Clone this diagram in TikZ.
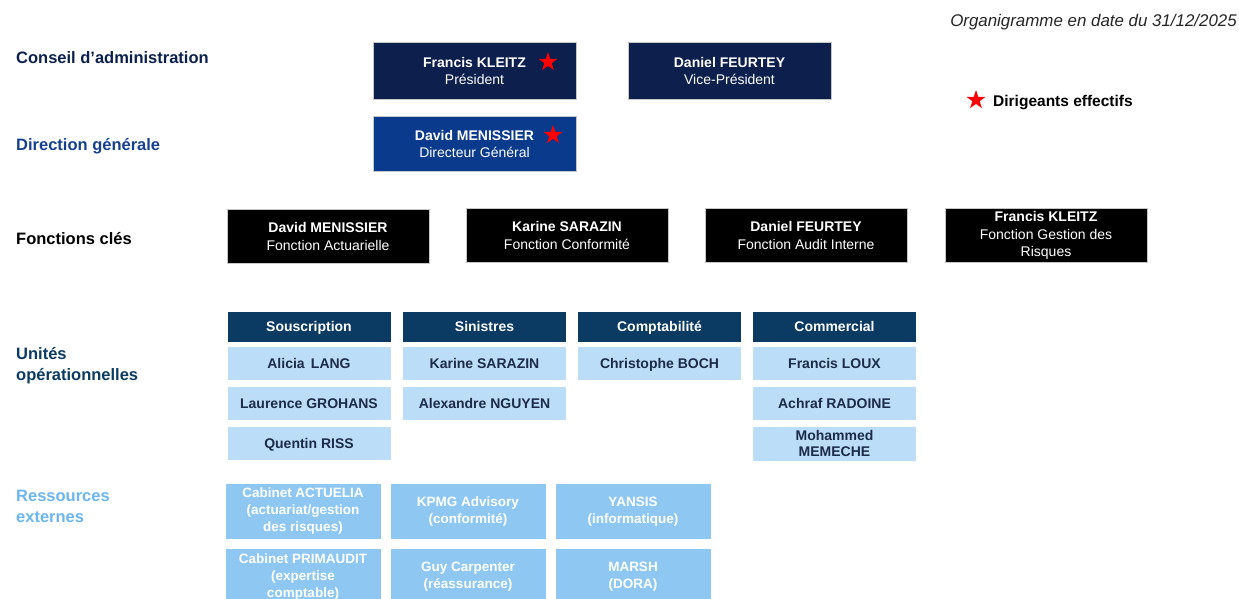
\documentclass[tikz,border=0pt]{standalone}
\usepackage{fontspec}
\setmainfont{Liberation Sans}
\usetikzlibrary{shapes.geometric}
\definecolor{canavy}{HTML}{0C1F4D}
\definecolor{dgblue}{HTML}{0A3A8C}
\definecolor{uohead}{HTML}{0B3A63}
\definecolor{uoitem}{HTML}{BCDDF7}
\definecolor{uotext}{HTML}{1C2B4A}
\definecolor{rebox}{HTML}{8DC7F2}
\definecolor{relabel}{HTML}{6CB6EE}
\definecolor{dglabel}{HTML}{17408F}
\tikzset{
  box/.style={rectangle, inner sep=0pt, align=center, text=white, font=\fontsize{14}{17}\selectfont},
  cabox/.style={box, fill=canavy, draw=gray!45, minimum width=203pt, minimum height=57pt},
  dgbox/.style={box, fill=dgblue, draw=gray!45, minimum width=203pt, minimum height=55pt},
  fcbox/.style={box, fill=black, draw=gray!45, minimum width=202pt, minimum height=54pt, font=\fontsize{14}{17.5}\selectfont},
  headbox/.style={box, fill=uohead, draw=white, minimum width=164pt, minimum height=31pt, text height=10pt, text depth=0pt, font=\bfseries\fontsize{14}{17}\selectfont},
  itembox/.style={box, fill=uoitem, draw=white, text=uotext, minimum width=164pt, minimum height=34pt, text height=10pt, text depth=0pt, font=\bfseries\fontsize{14}{16.5}\selectfont},
  resbox/.style={box, fill=rebox, draw=white, minimum width=156pt, minimum height=56pt, font=\bfseries\fontsize{13.5}{17}\selectfont},
  rowlabel/.style={anchor=west, inner sep=0pt, align=left, font=\bfseries\fontsize{16.5}{21}\selectfont},
  redstar/.style={star, star points=5, star point ratio=2.6, fill=red, inner sep=0pt, minimum size=20pt}
}
\begin{document}
\begin{tikzpicture}[x=1pt,y=-1pt]
\fill[white] (0,0) rectangle (1239,599);
\useasboundingbox (0,0) rectangle (1239,599);
\begin{scope}                       % start of clip scope
\clip (0,0) rectangle (1239,599);
% row labels
\node[rowlabel, text=canavy] (lca) at (16,57.5) {Conseil d’administration};
\node[rowlabel, text=dglabel] (ldg) at (16,146) {Direction générale};
\node[rowlabel, text=black] (lfc) at (16,239) {Fonctions clés};
\node[rowlabel, text=uohead] (luo) at (16,366) {Unités\\opérationnelles};
\node[rowlabel, text=relabel] (lre) at (16,506) {Ressources\\externes};
% title and legend
\node[anchor=east, inner sep=0pt, text=black!85, font=\itshape\fontsize{16.9}{20}\selectfont] (titre) at (1237,22.5) {Organigramme en date du 31/12/2025};
\node[redstar] (starleg) at (976,100) {};
\node[anchor=west, inner sep=0pt, font=\bfseries\fontsize{15.5}{18}\selectfont] (leg) at (993,102.5) {Dirigeants effectifs};
% conseil d'administration
\node[cabox] (pres) at (474.5,70.5) {\textbf{Francis KLEITZ}\\Président};
\node[redstar] (starpres) at (548,62) {};
\node[cabox] (vp) at (729.5,71) {\textbf{Daniel FEURTEY}\\Vice-Président};
% direction generale
\node[dgbox] (dg) at (474.5,143.5) {\textbf{David MENISSIER}\\Directeur Général};
\node[redstar] (stardg) at (553,135) {};
% fonctions cles
\node[fcbox] (fact) at (328,236.5) {\textbf{David MENISSIER}\\Fonction Actuarielle};
\node[fcbox] (fconf) at (567,235.5) {\textbf{Karine SARAZIN}\\Fonction Conformité};
\node[fcbox] (faudit) at (806,235.5) {\textbf{Daniel FEURTEY}\\Fonction Audit Interne};
\node[fcbox] (frisk) at (1046,235.5) {\textbf{Francis KLEITZ}\\Fonction Gestion des\\Risques};
% unites operationnelles
\node[headbox] (hsous) at (309,326.5) {Souscription};
\node[headbox] (hsin) at (484.5,326.5) {Sinistres};
\node[headbox] (hcompta) at (659.5,326.5) {Comptabilité};
\node[headbox] (hcom) at (834.5,326.5) {Commercial};
\node[itembox] (sous1) at (309,363) {Alicia\, LANG};
\node[itembox] (sous2) at (309,403) {Laurence GROHANS};
\node[itembox] (sous3) at (309,443.5) {Quentin RISS};
\node[itembox] (sin1) at (484.5,363) {Karine SARAZIN};
\node[itembox] (sin2) at (484.5,403) {Alexandre NGUYEN};
\node[itembox] (compta1) at (659.5,363) {Christophe BOCH};
\node[itembox] (com1) at (834.5,363) {Francis LOUX};
\node[itembox] (com2) at (834.5,403) {Achraf RADOINE};
\node[itembox, text height=, text depth=, minimum height=35pt] (com3) at (834.5,443.5) {Mohammed\\MEMECHE};
% ressources externes
\node[resbox] (actuelia) at (303,511.5) {Cabinet ACTUELIA\\(actuariat/gestion\\des risques)};
\node[resbox] (kpmg) at (468,511.5) {KPMG Advisory\\(conformité)};
\node[resbox] (yansis) at (633,511.5) {YANSIS\\(informatique)};
\node[resbox, minimum height=58pt] (primaudit) at (303,577) {Cabinet PRIMAUDIT\\(expertise\\comptable)};
\node[resbox, minimum height=58pt] (guy) at (468,577) {Guy Carpenter\\(réassurance)};
\node[resbox, minimum height=58pt] (marsh) at (633,577) {MARSH\\(DORA)};
\end{scope}                         % end of clip scope
\end{tikzpicture}
\end{document}
